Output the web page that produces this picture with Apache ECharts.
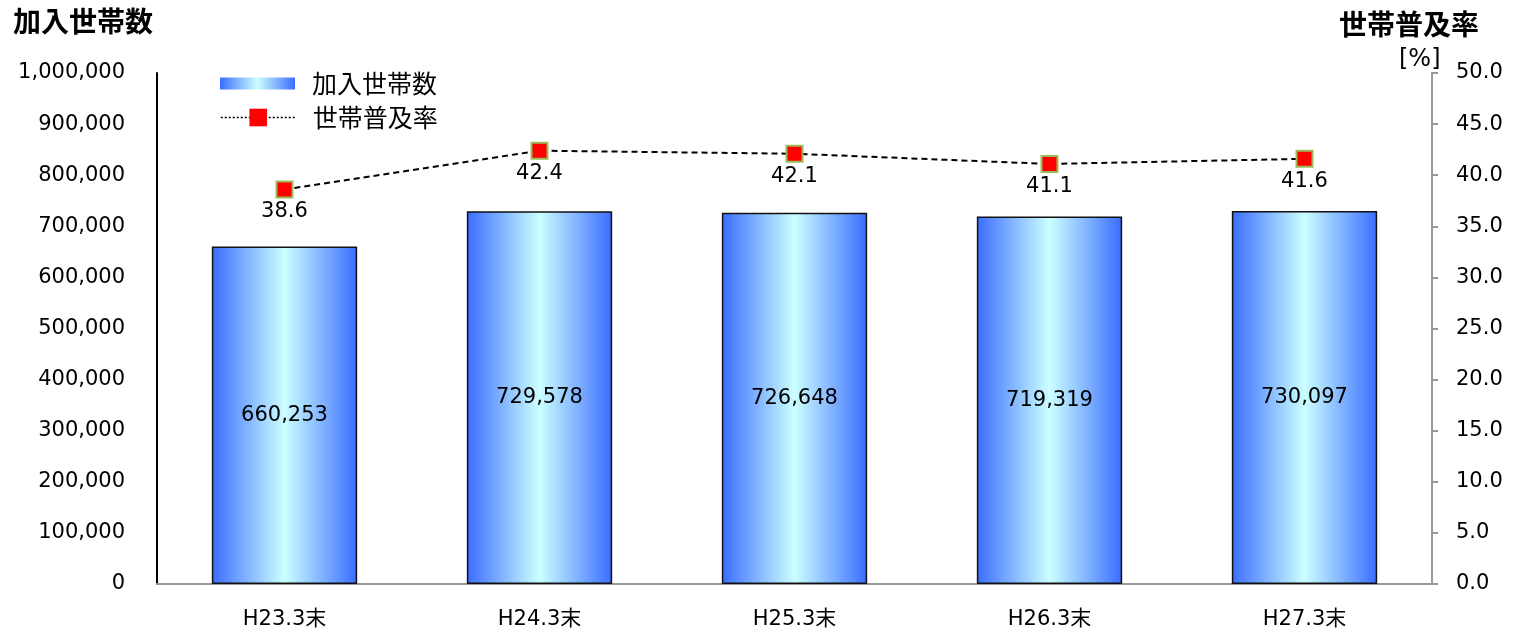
<!DOCTYPE html>
<html>
<head>
<meta charset="utf-8">
<script src="https://cdn.jsdelivr.net/npm/echarts@6/dist/echarts.min.js"></script>
<style>
  html, body { margin: 0; padding: 0; background: #fff; }
  #chart { width: 1513px; height: 633px; }
</style>
</head>
<body>
<div id="chart"></div>
<script>
// 年度（カテゴリ）
const categories = ["H23.3末", "H24.3末", "H25.3末", "H26.3末", "H27.3末"];
// 加入世帯数
const households = [660253, 729578, 726648, 719319, 730097];
// 世帯普及率 [%]
const rates = [38.6, 42.4, 42.1, 41.1, 41.6];

const font = "'DejaVu Sans', 'Noto Sans CJK JP', sans-serif";
const cjk = "'Noto Sans CJK JP', sans-serif";

const barGradient = new echarts.graphic.LinearGradient(0, 0, 1, 0, [
  { offset: 0, color: "#3a6cff" },
  { offset: 0.5, color: "#ccffff" },
  { offset: 1, color: "#3a6cff" },
]);

const option = {
  animation: false,
  textStyle: { fontFamily: font, color: "#000" },
  grid: { left: 157, right: 81, top: 73, bottom: 49 },
  graphic: [
    {
      type: "text", left: 13, top: 7,
      style: { text: "加入世帯数", font: "bold 28px " + cjk, fill: "#000" },
    },
    {
      type: "text", left: 1339, top: 10,
      style: { text: "世帯普及率", font: "bold 28px " + cjk, fill: "#000" },
    },
    {
      type: "text", left: 1399, top: 48,
      style: { text: "[%]", font: "24px 'DejaVu Sans'", fill: "#000" },
    },
  ],
  legend: [
    {
      left: 215, top: 66,
      itemWidth: 75, itemHeight: 12,
      textStyle: { fontSize: 25, fontFamily: cjk, color: "#000", padding: [0, 0, 0, 12] },
      data: [{ name: "加入世帯数", icon: "rect", itemStyle: { borderWidth: 0 } }],
    },
    {
      left: 215, top: 100,
      itemWidth: 75, itemHeight: 22,
      textStyle: { fontSize: 25, fontFamily: cjk, color: "#000", padding: [0, 0, 0, 12] },
      data: [{
        name: "世帯普及率",
        itemStyle: { borderWidth: 0 },
        lineStyle: { type: [2, 2], width: 1.5 },
      }],
    },
  ],
  xAxis: {
    type: "category",
    data: categories,
    axisLine: { lineStyle: { color: "#999", width: 2 } },
    axisTick: { show: false },
    axisLabel: { fontSize: 21, color: "#000", margin: 25 },
  },
  yAxis: [
    {
      type: "value",
      min: 0, max: 1000000, interval: 100000,
      axisLine: { show: true, lineStyle: { color: "#000", width: 2 } },
      axisTick: { show: false },
      splitLine: { show: false },
      axisLabel: {
        fontSize: 21, color: "#000", margin: 32,
        formatter: (v) => v.toLocaleString("en-US"),
      },
    },
    {
      type: "value",
      min: 0, max: 50, interval: 5,
      position: "right",
      axisLine: { show: true, lineStyle: { color: "#999", width: 2 } },
      axisTick: { show: true, inside: false, length: 6, lineStyle: { color: "#999", width: 2 } },
      splitLine: { show: false },
      axisLabel: {
        fontSize: 21, color: "#000", margin: 24,
        formatter: (v) => v.toFixed(1),
      },
    },
  ],
  series: [
    {
      name: "加入世帯数",
      type: "bar",
      data: households,
      barWidth: "57%",
      itemStyle: { color: barGradient, borderColor: "#111", borderWidth: 1.5 },
      label: {
        show: true, position: "inside",
        fontSize: 21, color: "#000",
        formatter: (p) => p.value.toLocaleString("en-US"),
      },
    },
    {
      name: "世帯普及率",
      type: "line",
      yAxisIndex: 1,
      data: rates,
      symbol: "rect",
      symbolSize: 16,
      itemStyle: { color: "#ff0000", borderColor: "#9bbb59", borderWidth: 2 },
      lineStyle: { color: "#000", width: 2, type: [6, 4] },
      label: {
        show: true, position: "bottom", distance: 3,
        fontSize: 21, color: "#000",
        formatter: (p) => p.value.toFixed(1),
      },
    },
  ],
};

echarts.init(document.getElementById("chart")).setOption(option);
</script>
</body>
</html>
